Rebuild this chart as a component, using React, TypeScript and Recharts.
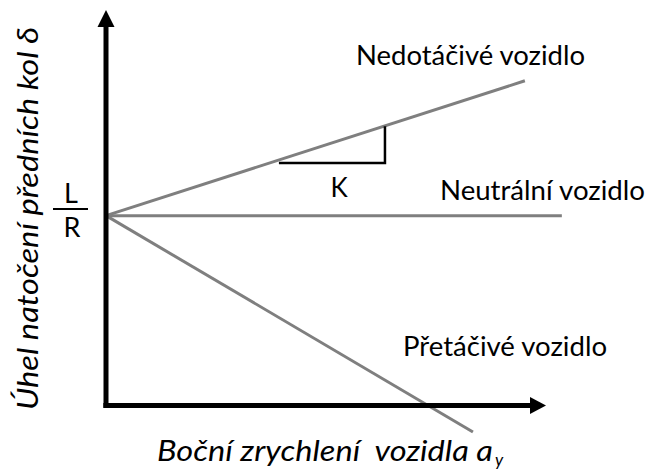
import React from 'react';
import { ComposedChart, Line, Scatter, XAxis, YAxis } from 'recharts';

// values in chart units: x 0..100 is the drawn horizontal axis, y 0..100 the vertical one
const startValue = 48; // L/R at zero lateral acceleration
const understeerLine = [
  { x: 0, y: startValue },
  { x: 95.2, y: 82.1 },
];
const neutralLine = [
  { x: 0, y: startValue },
  { x: 103.6, y: startValue },
];
const oversteerLine = [
  { x: 0, y: startValue },
  { x: 83.4, y: -6.7 },
];
const slopeMark = [
  { x: 39.3, y: 61.3 },
  { x: 63.4, y: 61.3 },
  { x: 63.4, y: 70.6 },
];
const verticalAxis = [
  { x: 0, y: -0.6 },
  { x: 0, y: 97 },
];
const horizontalAxis = [
  { x: -0.6, y: 0 },
  { x: 97, y: 0 },
];
const yArrowTip = [{ x: 0, y: 100 }];
const xArrowTip = [{ x: 100, y: 0 }];

const seriesLabels = ['Nedotáčivé vozidlo', 'Neutrální vozidlo', 'Přetáčivé vozidlo'];
const yTitle = 'Úhel natočení předních kol δ';
const xTitle = 'Boční zrychlení  vozidla a';

const W = 649;
const H = 470;
const GRAY = '#7f7f7f';
const FONT = 'Lato, "Open Sans", sans-serif';

const UpArrow = (props: any) => {
  const { cx, cy } = props;
  return <polygon points={`${cx},${cy} ${cx - 8.5},${cy + 17} ${cx + 8.5},${cy + 17}`} fill="#000" />;
};

const RightArrow = (props: any) => {
  const { cx, cy } = props;
  return <polygon points={`${cx},${cy} ${cx - 16},${cy - 8.5} ${cx - 16},${cy + 8.5}`} fill="#000" />;
};

export default function App() {
  return (
    <div style={{ position: 'absolute', left: 0, top: 0, width: W, height: H, background: '#fff' }}>
      <ComposedChart width={W} height={H} margin={{ top: 10, right: 15, bottom: 25, left: 84 }}>
        <XAxis type="number" dataKey="x" domain={[-5, 120]} hide allowDataOverflow />
        <YAxis type="number" dataKey="y" domain={[-10, 100]} hide allowDataOverflow />
        <Line data={understeerLine} dataKey="y" stroke={GRAY} strokeWidth={3} dot={false} isAnimationActive={false} />
        <Line data={neutralLine} dataKey="y" stroke={GRAY} strokeWidth={3} dot={false} isAnimationActive={false} />
        <Line data={oversteerLine} dataKey="y" stroke={GRAY} strokeWidth={3} dot={false} isAnimationActive={false} />
        <Line data={slopeMark} dataKey="y" stroke="#000" strokeWidth={2.5} dot={false} isAnimationActive={false} />
        <Line data={verticalAxis} dataKey="y" stroke="#000" strokeWidth={5} dot={false} isAnimationActive={false} />
        <Line data={horizontalAxis} dataKey="y" stroke="#000" strokeWidth={5} dot={false} isAnimationActive={false} />
        <Scatter data={yArrowTip} dataKey="y" shape={<UpArrow />} isAnimationActive={false} />
        <Scatter data={xArrowTip} dataKey="y" shape={<RightArrow />} isAnimationActive={false} />
      </ComposedChart>

      <svg
        width={W}
        height={H}
        style={{ position: 'absolute', left: 0, top: 0, pointerEvents: 'none' }}
        fontFamily={FONT}
        fill="#000"
      >
        <text x={356} y={65} fontSize={26} textLength={229} lengthAdjust="spacingAndGlyphs">
          {seriesLabels[0]}
        </text>
        <text x={440} y={200} fontSize={26} textLength={205} lengthAdjust="spacingAndGlyphs">
          {seriesLabels[1]}
        </text>
        <text x={403} y={356} fontSize={26} textLength={204} lengthAdjust="spacingAndGlyphs">
          {seriesLabels[2]}
        </text>
        <text x={339} y={197} fontSize={26} textAnchor="middle">
          K
        </text>

        {/* L/R fraction at the start value */}
        <text x={71} y={203} fontSize={27} textAnchor="middle">
          L
        </text>
        <line x1={53} y1={209} x2={88} y2={209} stroke="#000" strokeWidth={2} />
        <text x={72} y={237} fontSize={27} textAnchor="middle">
          R
        </text>

        <text
          transform="translate(38,410) rotate(-90)"
          fontSize={28}
          fontStyle="italic"
          textLength={383}
          lengthAdjust="spacingAndGlyphs"
        >
          {yTitle}
        </text>

        <text x={157} y={461} fontSize={28} fontStyle="italic" style={{ whiteSpace: 'pre' }}>
          <tspan textLength={336} lengthAdjust="spacingAndGlyphs">
            {xTitle}
          </tspan>
          <tspan x={495} y={466} fontSize={17}>
            y
          </tspan>
        </text>
      </svg>
    </div>
  );
}
